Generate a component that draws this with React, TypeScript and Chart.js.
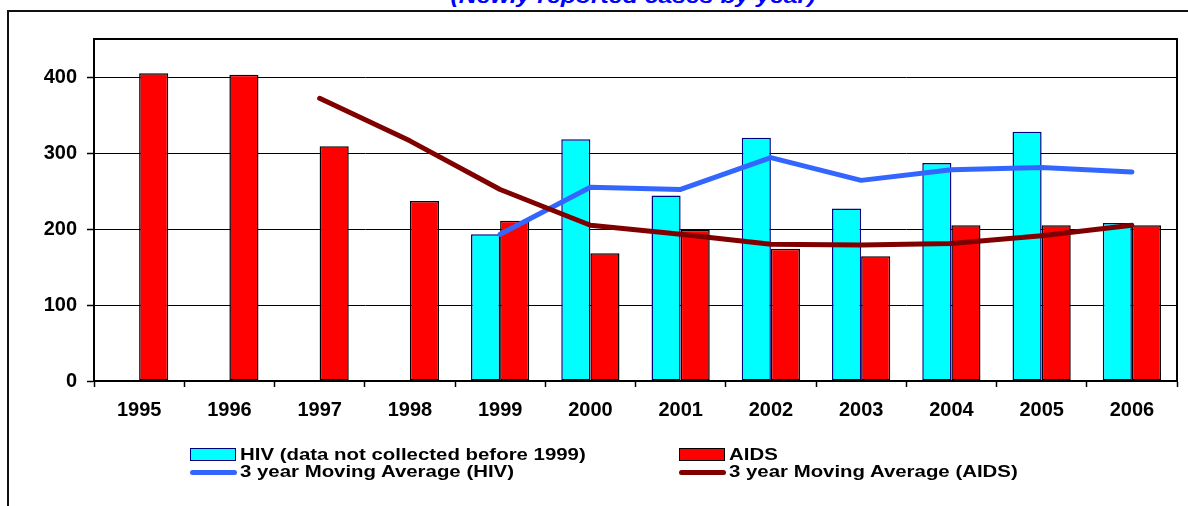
import React, { useEffect, useRef } from 'react';
import { Chart, registerables } from 'chart.js';

Chart.register(...registerables);

const years = ['1995', '1996', '1997', '1998', '1999', '2000', '2001', '2002', '2003', '2004', '2005', '2006'];
const hivCases = [null, null, null, null, 193, 318, 244, 320, 227, 287, 328, 208];
const aidsCases = [405, 403, 309, 237, 211, 168, 199, 174, 164, 205, 205, 205];
const hivMovingAvg = [null, null, null, null, 193, 255, 252, 294, 264, 278, 281, 275];
const aidsMovingAvg = [null, null, 372, 316, 252, 205, 193, 180, 179, 181, 191, 205];
const yTickValues = [0, 100, 200, 300, 400];

const titleText = '(Newly reported cases by year)';
const hivLabel = 'HIV (data not collected before 1999)';
const aidsLabel = 'AIDS';
const hivAvgLabel = '3 year Moving Average (HIV)';
const aidsAvgLabel = '3 year Moving Average (AIDS)';

const FONT = '"Liberation Sans", Arial, Helvetica, sans-serif';

const plotFrame = {
  id: 'plotFrame',
  afterDraw(chart: any) {
    const { ctx, chartArea } = chart;
    ctx.save();
    ctx.strokeStyle = '#000';
    ctx.lineWidth = 2;
    ctx.strokeRect(chartArea.left, chartArea.top, chartArea.right - chartArea.left, chartArea.bottom - chartArea.top);
    ctx.restore();
  },
};

export default function App() {
  const canvasRef = useRef<HTMLCanvasElement | null>(null);

  useEffect(() => {
    if (!canvasRef.current) return;
    const chart = new Chart(canvasRef.current, {
      type: 'bar',
      data: {
        labels: years,
        datasets: [
          {
            type: 'line',
            label: hivAvgLabel,
            data: hivMovingAvg,
            borderColor: '#3366FF',
            backgroundColor: '#3366FF',
            borderWidth: 5,
            pointRadius: 0,
            tension: 0,
            fill: false,
            borderCapStyle: 'round',
            borderJoinStyle: 'round',
            order: 1,
          } as any,
          {
            type: 'line',
            label: aidsAvgLabel,
            data: aidsMovingAvg,
            borderColor: '#800000',
            backgroundColor: '#800000',
            borderWidth: 5,
            pointRadius: 0,
            tension: 0,
            fill: false,
            borderCapStyle: 'round',
            borderJoinStyle: 'round',
            order: 0,
          } as any,
          {
            label: hivLabel,
            data: hivCases,
            backgroundColor: '#00FFFF',
            borderColor: '#000080',
            borderWidth: 1.5,
            borderSkipped: false,
            categoryPercentage: 0.645,
            barPercentage: 1,
            order: 2,
          } as any,
          {
            label: aidsLabel,
            data: aidsCases,
            backgroundColor: '#FF0000',
            borderColor: '#000000',
            borderWidth: 1.5,
            borderSkipped: false,
            categoryPercentage: 0.645,
            barPercentage: 1,
            order: 2,
          } as any,
        ],
      },
      options: {
        responsive: false,
        animation: false,
        layout: { padding: { top: 39, right: 11, left: 0, bottom: 75 } },
        plugins: {
          legend: { display: false },
          tooltip: { enabled: false },
          title: { display: false },
        },
        scales: {
          x: {
            offset: true,
            grid: {
              offset: true,
              drawOnChartArea: false,
              drawTicks: true,
              tickLength: 6,
              tickColor: '#000',
              tickWidth: 1.5,
              color: '#000',
            },
            border: { display: true, color: '#000', width: 2 },
            ticks: {
              color: '#000',
              padding: 11,
              maxRotation: 0,
              autoSkip: false,
              font: { family: FONT, size: 20, weight: 'bold' },
            },
            afterFit(scale: any) {
              scale.height = 50;
            },
          },
          y: {
            min: 0,
            max: 450,
            grid: {
              color: '#000',
              lineWidth: 1,
              drawTicks: true,
              tickLength: 7,
              tickColor: '#000',
              tickWidth: 1.5,
            },
            border: { display: true, color: '#000', width: 2 },
            afterBuildTicks(scale: any) {
              scale.ticks = yTickValues.map((v) => ({ value: v }));
            },
            ticks: {
              color: '#000',
              padding: 10,
              font: { family: FONT, size: 20, weight: 'bold' },
            },
            afterFit(scale: any) {
              scale.width = 94;
            },
          },
        },
      },
      plugins: [plotFrame],
    });
    return () => chart.destroy();
  }, []);

  const legendText: React.CSSProperties = {
    position: 'absolute',
    fontFamily: FONT,
    fontWeight: 'bold',
    fontSize: 17,
    lineHeight: '17px',
    whiteSpace: 'nowrap',
    color: '#000',
    transform: 'scaleX(1.2)',
    transformOrigin: 'left center',
  };

  return (
    <div
      style={{
        position: 'absolute',
        left: 0,
        top: 0,
        width: 1188,
        height: 506,
        overflow: 'hidden',
        background: '#fff',
      }}
    >
      <div
        style={{
          position: 'absolute',
          left: 633,
          top: -15.3,
          fontFamily: FONT,
          fontWeight: 'bold',
          fontStyle: 'italic',
          fontSize: 21,
          lineHeight: '21px',
          color: '#0000FF',
          whiteSpace: 'nowrap',
          transform: 'translateX(-50%) scaleX(1.18)',
        }}
      >
        {titleText}
      </div>
      <div
        style={{
          position: 'absolute',
          left: 7,
          top: 10,
          width: 1400,
          height: 700,
          border: '2px solid #111',
        }}
      />
      <canvas
        ref={canvasRef}
        width={1188}
        height={506}
        style={{ position: 'absolute', left: 0, top: 0 }}
      />
      {/* legend */}
      <div style={{ position: 'absolute', left: 190, top: 448, width: 44, height: 11, background: '#00FFFF', border: '1.5px solid #000080' }} />
      <div style={{ ...legendText, left: 240, top: 445.6 }}>{hivLabel}</div>
      <div style={{ position: 'absolute', left: 679, top: 448, width: 44, height: 11, background: '#FF0000', border: '1.5px solid #000' }} />
      <div style={{ ...legendText, left: 729, top: 445.6 }}>{aidsLabel}</div>
      <div style={{ position: 'absolute', left: 190, top: 469.5, width: 47, height: 5, background: '#3366FF', borderRadius: 3 }} />
      <div style={{ ...legendText, left: 240, top: 463 }}>{hivAvgLabel}</div>
      <div style={{ position: 'absolute', left: 679, top: 469.5, width: 47, height: 5, background: '#800000', borderRadius: 3 }} />
      <div style={{ ...legendText, left: 729, top: 463 }}>{aidsAvgLabel}</div>
    </div>
  );
}
